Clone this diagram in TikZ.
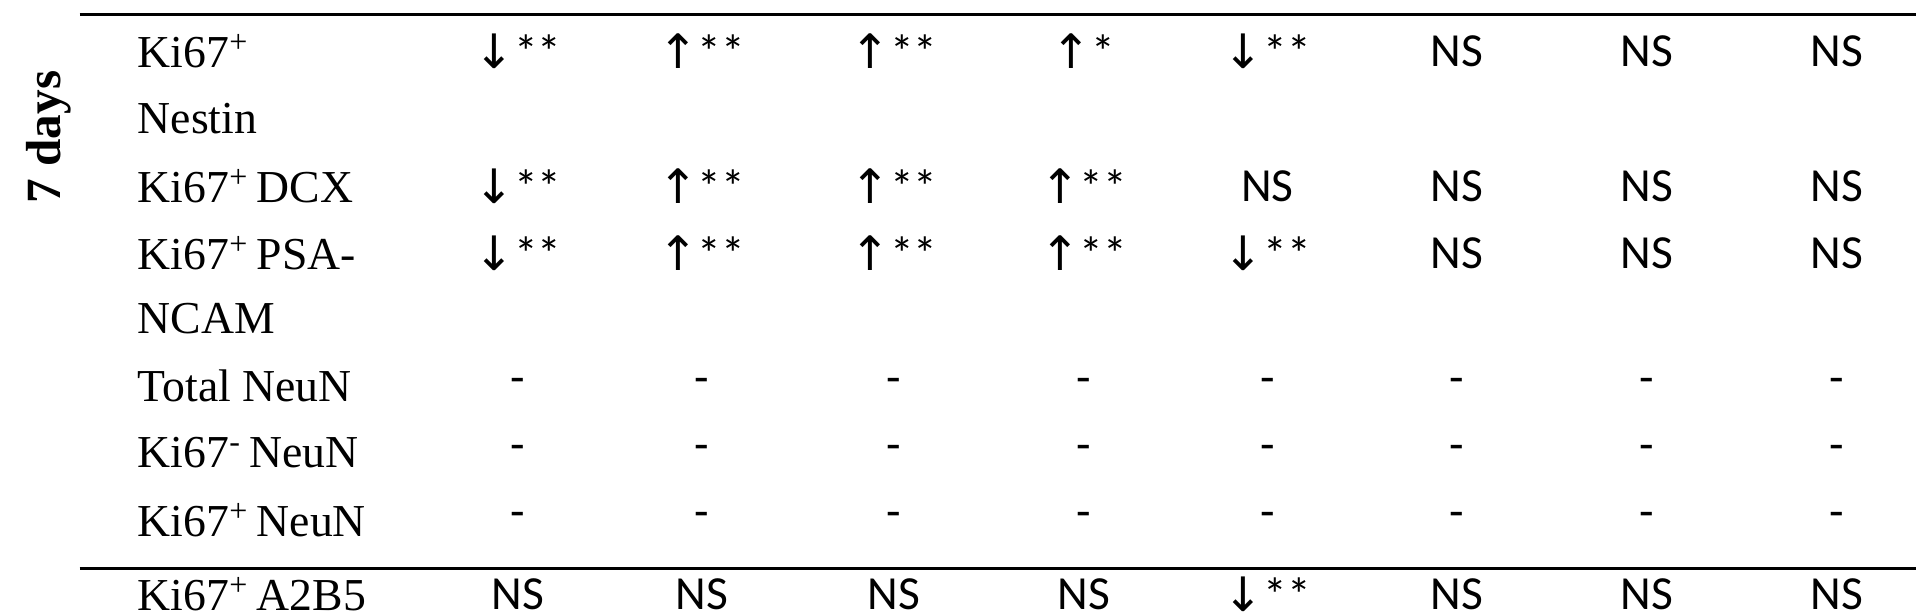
\documentclass[tikz,border=0pt]{standalone}
\usepackage{fontspec}
\setmainfont{Liberation Serif}
\newfontfamily\calfont{Carlito}
\newfontfamily\dvfont{DejaVu Sans}
\begin{document}
\begin{tikzpicture}[x=0.012245cm,y=-0.012245cm,
  lab/.style={anchor=west,inner sep=0pt,font=\fontsize{13}{15}\selectfont},
  val/.style={inner sep=0pt,font=\calfont\fontsize{13.5}{15}\selectfont},
  rule/.style={line width=0.9pt}]
\useasboundingbox (0,0) rectangle (1568,501.4);
\coordinate (t1) at (65,12); \coordinate (t2) at (1565,12);
\coordinate (b1) at (65,464); \coordinate (b2) at (1565,464);
\draw[rule] (t1) -- (t2);
\draw[rule] (b1) -- (b2);
\node[rotate=90,font=\bfseries\fontsize{14}{16}\selectfont] (days) at (40,112) {7 days};
\node[lab] (r1) at (112,42) {Ki67\textsuperscript{+}};
\node[lab] (r1b) at (112,97) {Nestin};
\node[lab] (r2) at (112,152) {Ki67\textsuperscript{+}\,DCX};
\node[lab] (r3) at (112,207) {Ki67\textsuperscript{+}\,PSA-};
\node[lab] (r3b) at (112,260) {NCAM};
\node[lab] (r4) at (112,315) {Total NeuN};
\node[lab] (r5) at (112,370) {Ki67\textsuperscript{-}\,NeuN};
\node[lab] (r6) at (112,425) {Ki67\textsuperscript{+}\,NeuN};
\node[lab] (r7) at (112,485) {Ki67\textsuperscript{+}\,A2B5};
\newcommand{\mydn}[1]{{\dvfont\char"2193}#1}
\newcommand{\myup}[1]{{\dvfont\char"2191}#1}
\foreach \y/\list in {42/{\mydn{**},\myup{**},\myup{**},\myup{*},\mydn{**},NS,NS,NS},
  152/{\mydn{**},\myup{**},\myup{**},\myup{**},NS,NS,NS,NS},
  207/{\mydn{**},\myup{**},\myup{**},\myup{**},\mydn{**},NS,NS,NS},
  315/{-,-,-,-,-,-,-,-},370/{-,-,-,-,-,-,-,-},425/{-,-,-,-,-,-,-,-},
  485/{NS,NS,NS,NS,\mydn{**},NS,NS,NS}}{
  \foreach \v [count=\i] in \list {
    \pgfmathsetmacro\xx{{0,423,573,730,885,1035,1190,1345,1500}[\i]}
    \node[val] (c\y-\i) at (\xx,\y) {\v};
  }
}
\end{tikzpicture}
\end{document}
